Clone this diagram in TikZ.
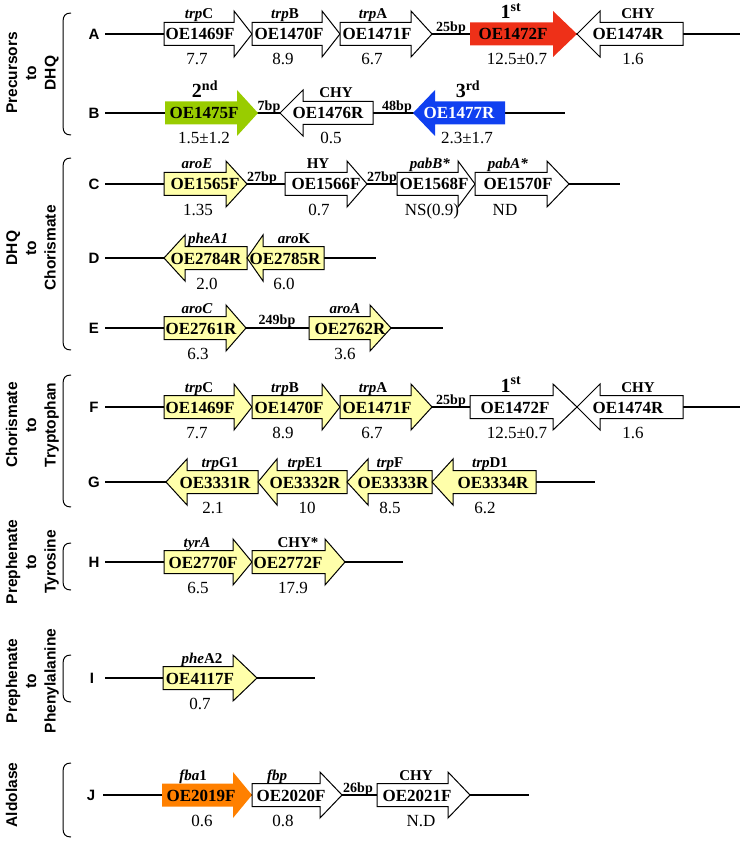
\documentclass[tikz,border=0pt]{standalone}
\usepackage{fontspec}
\setmainfont{Liberation Serif}
\newfontfamily\lsans{Liberation Sans}
\definecolor{gyel}{RGB}{255,255,170}
\definecolor{gred}{RGB}{238,48,24}
\definecolor{ggreen}{RGB}{153,204,0}
\definecolor{gblue}{RGB}{16,64,240}
\definecolor{gorange}{RGB}{255,128,0}
\tikzset{
 chrom/.style={line width=2.6pt, black},
 wgene/.style={draw=black, line width=1pt, fill=white},
 ygene/.style={draw=black, line width=1pt, fill=gyel},
 cgene/.style={fill=#1, draw=none},
 gname/.style={anchor=base, inner sep=0pt, font=\fontsize{15}{15}\selectfont\bfseries},
 gid/.style={anchor=base, inner sep=0pt, font=\fontsize{17}{17}\selectfont\bfseries},
 gval/.style={anchor=base, inner sep=0pt, font=\fontsize{17}{17}\selectfont},
 bplab/.style={anchor=base, inner sep=0pt, font=\fontsize{14}{14}\selectfont\bfseries},
 rowlab/.style={anchor=center, inner sep=0pt, font=\lsans\fontsize{15}{15}\selectfont\bfseries},
 grplab/.style={anchor=base, rotate=90, inner sep=0pt, font=\lsans\fontsize{15.5}{15.5}\selectfont\bfseries},
 brace/.style={line width=1pt, black},
}
\newcommand\rankf{\fontsize{20}{20}\selectfont}
\newcommand\fwdgene[6]{\path[#1] (#3,#6-11.5) -- (#4,#6-11.5) -- (#4,#6-23) -- (#5,#6) -- (#4,#6+23) -- (#4,#6+11.5) -- (#3,#6+11.5) -- cycle;}
\newcommand\revgene[6]{\path[#1] (#5,#6-11.5) -- (#4,#6-11.5) -- (#4,#6-23) -- (#3,#6) -- (#4,#6+23) -- (#4,#6+11.5) -- (#5,#6+11.5) -- cycle;}
\newcommand\genetxt[8]{\node[gname] (#1n) at (#3,#2-15) {#4}; \node[gid] (#1i) at (#5,#2+6) {#6}; \node[gval] (#1v) at (#7,#2+31) {#8};}
\newcommand\chromline[4]{\coordinate (#1s) at (#2,#4); \coordinate (#1e) at (#3,#4); \draw[chrom] (#1s) -- (#1e);}
\newcommand\grpbrace[2]{\draw[brace] (71,#1) .. controls (65,#1) and (63,#1+3) .. (63,#1+9) -- (63,#2-9) .. controls (63,#2-3) and (65,#2) .. (71,#2);}
\begin{document}
\begin{tikzpicture}[x=1pt,y=-1pt]
\useasboundingbox (0,0) rectangle (745,842);
% group labels and braces
\grpbrace{13}{135}
\node[grplab] (g1a) at (17,73) {Precursors};
\node[grplab] (g1b) at (36,73) {to};
\node[grplab] (g1c) at (55.5,73) {DHQ};
\grpbrace{158}{350}
\node[grplab] (g2a) at (17,248) {DHQ};
\node[grplab] (g2b) at (36,248) {to};
\node[grplab] (g2c) at (55.5,248) {Chorismate};
\grpbrace{375}{507}
\node[grplab] (g3a) at (17,425) {Chorismate};
\node[grplab] (g3b) at (36,425) {to};
\node[grplab] (g3c) at (55.5,425) {Tryptophan};
\grpbrace{543}{590}
\node[grplab] (g4a) at (17,562) {Prephenate};
\node[grplab] (g4b) at (36,562) {to};
\node[grplab] (g4c) at (55.5,562) {Tyrosine};
\grpbrace{655}{702}
\node[grplab] (g5a) at (17,681) {Prephenate};
\node[grplab] (g5b) at (36,681) {to};
\node[grplab] (g5c) at (55.5,681) {Phenylalanine};
\grpbrace{763}{837}
\node[grplab] (g6a) at (17,795) {Aldolase};
% row letters
\node[rowlab] (LA) at (94,34) {A};
\node[rowlab] (LB) at (94,113) {B};
\node[rowlab] (LC) at (94,184) {C};
\node[rowlab] (LD) at (94,258) {D};
\node[rowlab] (LE) at (94,328) {E};
\node[rowlab] (LF) at (94,407) {F};
\node[rowlab] (LG) at (94,482) {G};
\node[rowlab] (LH) at (94,562) {H};
\node[rowlab] (LI) at (92,678) {I};
\node[rowlab] (LJ) at (91,795) {J};
% Row A
\chromline{A}{105}{740}{34}
\fwdgene{wgene}{A1}{164}{234}{252}{34}
\fwdgene{wgene}{A2}{252}{322}{340}{34}
\fwdgene{wgene}{A3}{340}{411}{432}{34}
\fwdgene{cgene=gred}{A4}{470}{553}{577}{34}
\revgene{wgene}{A5}{577}{600}{683}{34}
\genetxt{A1}{34}{199}{\textit{trp}C}{200}{OE1469F}{197}{7.7}
\genetxt{A2}{34}{285}{\textit{trp}B}{289}{OE1470F}{283}{8.9}
\genetxt{A3}{34}{373}{\textit{trp}A}{377}{OE1471F}{372}{6.7}
\genetxt{A4}{34}{511}{\rankf 1\textsuperscript{st}}{513}{OE1472F}{517}{12.5±0.7}
\genetxt{A5}{34}{638}{CHY}{628}{OE1474R}{633}{1.6}
\node[bplab] (Abp) at (451,31.5) {25bp};
% Row B
\chromline{B}{105}{565}{113}
\fwdgene{cgene=ggreen}{B1}{165}{237}{258}{113}
\revgene{wgene}{B2}{280}{303}{373}{113}
\revgene{cgene=gblue}{B3}{413}{435}{505}{113}
\genetxt{B1}{113}{205}{\rankf 2\textsuperscript{nd}}{204}{OE1475F}{204}{1.5±1.2}
\genetxt{B2}{113}{336}{CHY}{328}{OE1476R}{331}{0.5}
\genetxt{B3}{113}{468}{\rankf 3\textsuperscript{rd}}{459}{\color{white}OE1477R}{467}{2.3±1.7}
\node[bplab] (Bbp1) at (269,110.5) {7bp};
\node[bplab] (Bbp2) at (397,110.5) {48bp};
% Row C
\chromline{C}{105}{620}{184}
\fwdgene{ygene}{C1}{164}{226}{247}{184}
\fwdgene{wgene}{C2}{285}{347}{367}{184}
\fwdgene{wgene}{C3}{397}{458}{475}{184}
\fwdgene{wgene}{C4}{475}{547}{569}{184}
\genetxt{C1}{184}{197}{\textit{aroE}}{205}{OE1565F}{198}{1.35}
\genetxt{C2}{184}{318}{HY}{326}{OE1566F}{319}{0.7}
\genetxt{C3}{184}{430}{\textit{pabB*}}{434}{OE1568F}{432}{NS(0.9)}
\genetxt{C4}{184}{508}{\textit{pabA*}}{518}{OE1570F}{505}{ND}
\node[bplab] (Cbp1) at (262,181.5) {27bp};
\node[bplab] (Cbp2) at (382,181.5) {27bp};
% Row D
\chromline{D}{105}{376}{258}
\revgene{ygene}{D1}{164}{185}{247}{258}
\revgene{ygene}{D2}{247}{263}{324}{258}
\genetxt{D1}{258}{208}{\textit{pheA1}}{206}{OE2784R}{207}{2.0}
\genetxt{D2}{258}{294}{\textit{aro}K}{285}{OE2785R}{284}{6.0}
% Row E
\chromline{E}{105}{443}{328}
\fwdgene{ygene}{E1}{164}{226}{246}{328}
\fwdgene{ygene}{E2}{309}{370}{391}{328}
\genetxt{E1}{328}{197}{\textit{aroC}}{201}{OE2761R}{198}{6.3}
\genetxt{E2}{328}{345}{\textit{aroA}}{350}{OE2762R}{345}{3.6}
\node[bplab] (Ebp) at (277,324.5) {249bp};
% Row F
\chromline{F}{105}{740}{407}
\fwdgene{ygene}{F1}{164}{234}{252}{407}
\fwdgene{ygene}{F2}{252}{322}{340}{407}
\fwdgene{ygene}{F3}{340}{411}{432}{407}
\fwdgene{wgene}{F4}{470}{553}{577}{407}
\revgene{wgene}{F5}{577}{600}{683}{407}
\genetxt{F1}{407}{199}{\textit{trp}C}{200}{OE1469F}{197}{7.7}
\genetxt{F2}{407}{285}{\textit{trp}B}{289}{OE1470F}{283}{8.9}
\genetxt{F3}{407}{373}{\textit{trp}A}{377}{OE1471F}{372}{6.7}
\genetxt{F4}{407}{511}{\rankf 1\textsuperscript{st}}{515}{OE1472F}{517}{12.5±0.7}
\genetxt{F5}{407}{638}{CHY}{628}{OE1474R}{633}{1.6}
\node[bplab] (Fbp) at (451,404.5) {25bp};
% Row G
\chromline{G}{105}{595}{482}
\revgene{ygene}{G1}{166}{187}{258}{482}
\revgene{ygene}{G2}{258}{277}{347}{482}
\revgene{ygene}{G3}{347}{368}{432}{482}
\revgene{ygene}{G4}{432}{453}{536}{482}
\genetxt{G1}{482}{220}{\textit{trp}G1}{215}{OE3331R}{213}{2.1}
\genetxt{G2}{482}{305}{\textit{trp}E1}{305}{OE3332R}{307}{10}
\genetxt{G3}{482}{390}{\textit{trp}F}{393}{OE3333R}{390}{8.5}
\genetxt{G4}{482}{490}{\textit{trp}D1}{493}{OE3334R}{485}{6.2}
% Row H
\chromline{H}{105}{403}{562}
\fwdgene{ygene}{H1}{164}{233}{252}{562}
\fwdgene{ygene}{H2}{252}{325}{345}{562}
\genetxt{H1}{562}{197}{\textit{tyrA}}{203}{OE2770F}{198}{6.5}
\genetxt{H2}{562}{298}{CHY*}{288}{OE2772F}{293}{17.9}
% Row I
\chromline{I}{105}{315}{678}
\fwdgene{ygene}{I1}{163}{233}{257}{678}
\genetxt{I1}{678}{202}{\textit{phe}A2}{200}{OE4117F}{200}{0.7}
% Row J
\chromline{J}{103}{529}{795}
\fwdgene{cgene=gorange}{J1}{162}{233}{252}{795}
\fwdgene{wgene}{J2}{252}{320}{342}{795}
\fwdgene{wgene}{J3}{377}{448}{470}{795}
\genetxt{J1}{795}{193}{\textit{fba}1}{201}{OE2019F}{202}{0.6}
\genetxt{J2}{795}{277}{\textit{fbp}}{291}{OE2020F}{283}{0.8}
\genetxt{J3}{795}{416}{CHY}{417}{OE2021F}{421}{N.D}
\node[bplab] (Jbp) at (358,792.5) {26bp};
\end{tikzpicture}
\end{document}
